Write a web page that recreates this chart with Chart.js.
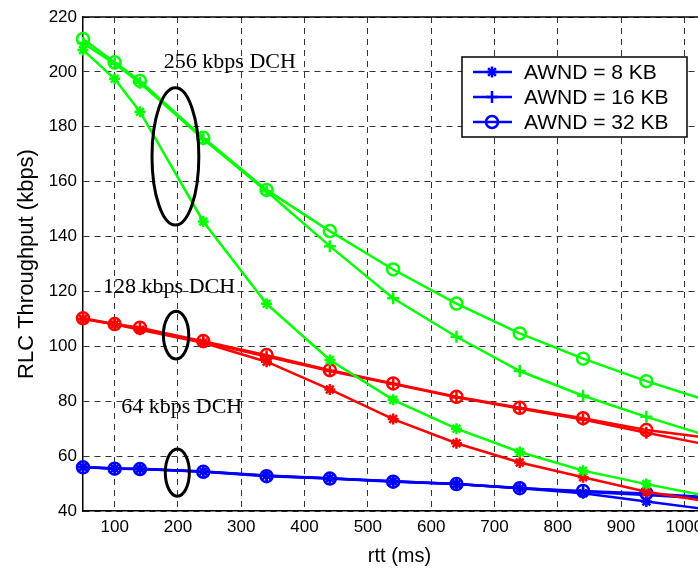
<!DOCTYPE html>
<html lang="en">
<head>
<meta charset="UTF-8">
<title>RLC Throughput vs rtt</title>
<script src="https://cdn.jsdelivr.net/npm/chart.js"></script>
<style>
    body { margin: 0; background: #fff; overflow: hidden; }
    #wrap { width: 698px; height: 569px; overflow: hidden; }
    canvas { display: block; }
</style>
</head>
<body>
<div id="wrap"><canvas id="rlcChart" width="740" height="569"></canvas></div>
<script>
    // x values (rtt, ms)
    const rtt = [50, 100, 140, 240, 340, 440, 540, 640, 740, 840, 940, 1040];
    const xTicks = [100, 200, 300, 400, 500, 600, 700, 800, 900, 1000];
    const yTicks = [40, 60, 80, 100, 120, 140, 160, 180, 200, 220];

    // 256 kbps DCH
    const dch256_8  = [208, 197.5, 185.5, 145.5, 115.5, 95, 80.5, 70, 61.5, 54.7, 49.8, 45.3];
    const dch256_16 = [210.5, 203, 196, 175.5, 156.5, 136.5, 117.5, 103.5, 91, 82, 74.3, 67.2];
    const dch256_32 = [212, 203.5, 196.7, 176, 157, 142, 128, 115.6, 104.7, 95.5, 87.3, 80];
    // 128 kbps DCH
    const dch128_8  = [110, 108, 106, 101.3, 94.4, 84.3, 73.5, 64.7, 57.7, 52.3, 47, 43.4];
    const dch128_16 = [110, 108, 106.5, 101.6, 96.3, 91, 86.3, 81.4, 77.3, 73.3, 68.5, 64];
    const dch128_32 = [110.2, 108.1, 106.8, 101.9, 96.8, 91.3, 86.5, 81.6, 77.6, 73.8, 69.5, 66.6];
    // 64 kbps DCH
    const dch64_8  = [56, 55.5, 55.4, 54.4, 52.9, 51.9, 50.8, 49.8, 48.3, 46.5, 43.5, 40.5];
    const dch64_16 = [56, 55.5, 55.3, 54.4, 52.8, 51.8, 50.8, 49.8, 48.4, 47, 45.8, 44.5];
    const dch64_32 = [55.9, 55.4, 55.3, 54.3, 52.7, 51.8, 50.7, 49.8, 48.3, 47.3, 46.4, 45];

    const awndLabels = ['AWND = 8 KB', 'AWND = 16 KB', 'AWND = 32 KB'];
    const awndStyles = ['star', 'cross', 'circle'];

    // annotation text + ellipses, in data units
    const dchNotes = [
        { text: '256 kbps DCH', x: 282, y: 203.5 },
        { text: '128 kbps DCH', x: 186, y: 121.6 },
        { text: '64 kbps DCH',  x: 206, y: 77.9 }
    ];
    const dchRings = [
        { x: 196, y: 169.2, rx: 37, ry: 25 },
        { x: 197, y: 104.1, rx: 20, ry: 8.7 },
        { x: 199, y: 54,    rx: 19, ry: 8.6 }
    ];

    const SANS = "'Liberation Sans', Arial, sans-serif";
    const SERIF = "'Liberation Serif', 'Times New Roman', serif";

    function series(values, color, style) {
        return {
            data: rtt.map((x, i) => ({ x: x, y: values[i] })),
            borderColor: color,
            backgroundColor: 'rgba(0,0,0,0)',
            borderWidth: 2.5,
            pointStyle: style,
            pointRadius: style === 'star' ? 5.5 : 6,
            pointBorderWidth: 2.5,
            pointBackgroundColor: 'rgba(0,0,0,0)',
            pointBorderColor: color,
            tension: 0,
            clip: false
        };
    }

    const datasets = [
        series(dch256_32, '#00ff00', 'circle'),
        series(dch256_16, '#00ff00', 'cross'),
        series(dch256_8,  '#00ff00', 'star'),
        series(dch128_32, '#ff0000', 'circle'),
        series(dch128_16, '#ff0000', 'cross'),
        series(dch128_8,  '#ff0000', 'star'),
        series(dch64_32,  '#0000ff', 'circle'),
        series(dch64_16,  '#0000ff', 'cross'),
        series(dch64_8,   '#0000ff', 'star')
    ];

    const extrasPlugin = {
        id: 'extras',
        afterDatasetsDraw(chart) {
            const { ctx, chartArea } = chart;
            const xs = chart.scales.x, ys = chart.scales.y;

            // solid top frame
            ctx.save();
            ctx.strokeStyle = '#000';
            ctx.lineWidth = 1.5;
            ctx.beginPath();
            ctx.moveTo(chartArea.left, chartArea.top);
            ctx.lineTo(chartArea.right, chartArea.top);
            ctx.stroke();

            // ellipses
            ctx.lineWidth = 3;
            dchRings.forEach(r => {
                const cx = xs.getPixelForValue(r.x), cy = ys.getPixelForValue(r.y);
                const rx = xs.getPixelForValue(r.x + r.rx) - cx;
                const ry = cy - ys.getPixelForValue(r.y + r.ry);
                ctx.beginPath();
                ctx.ellipse(cx, cy, rx, ry, 0, 0, Math.PI * 2);
                ctx.stroke();
            });

            // labels
            ctx.fillStyle = '#000';
            ctx.font = '22px ' + SERIF;
            ctx.textAlign = 'center';
            ctx.textBaseline = 'middle';
            dchNotes.forEach(n => {
                ctx.fillText(n.text, xs.getPixelForValue(n.x), ys.getPixelForValue(n.y));
            });

            // legend box
            const x0 = chartArea.right - 254, y0 = chartArea.top + 40, w = 225, h = 80;
            ctx.fillStyle = '#fff';
            ctx.fillRect(x0, y0, w, h);
            ctx.strokeStyle = '#000';
            ctx.lineWidth = 1.5;
            ctx.strokeRect(x0, y0, w, h);
            ctx.font = '21px ' + SANS;
            ctx.textAlign = 'left';
            awndLabels.forEach((label, i) => {
                const y = y0 + 15 + i * 25;
                ctx.strokeStyle = '#0000ff';
                ctx.lineWidth = 2.5;
                ctx.beginPath();
                ctx.moveTo(x0 + 11, y);
                ctx.lineTo(x0 + 50, y);
                ctx.stroke();
                ctx.fillStyle = 'rgba(0,0,0,0)';
                Chart.helpers.drawPoint(ctx, {
                    pointStyle: awndStyles[i],
                    radius: awndStyles[i] === 'star' ? 5.5 : 6,
                    borderWidth: 2.5,
                    rotation: 0
                }, x0 + 30, y);
                ctx.fillStyle = '#000';
                ctx.fillText(label, x0 + 62, y + 1);
            });
            ctx.restore();
        }
    };

    const ctx = document.getElementById('rlcChart').getContext('2d');
    new Chart(ctx, {
        type: 'line',
        data: { datasets: datasets },
        options: {
            responsive: false,
            animation: false,
            events: [],
            layout: { padding: { top: 17, right: 24, left: 0, bottom: 0 } },
            plugins: { legend: { display: false }, tooltip: { enabled: false } },
            scales: {
                x: {
                    type: 'linear',
                    min: 50,
                    max: 1050,
                    afterBuildTicks: scale => { scale.ticks = xTicks.map(v => ({ value: v })); },
                    afterFit: scale => { scale.height = 58; },
                    ticks: {
                        autoSkip: false,
                        maxRotation: 0,
                        padding: 6,
                        color: '#000',
                        font: { size: 17, family: SANS },
                        callback: v => String(v)
                    },
                    grid: { color: 'rgba(0,0,0,0.8)', lineWidth: 1, drawTicks: false },
                    border: { color: '#000', width: 1.5, dash: [6, 5] },
                    title: {
                        display: true,
                        text: 'rtt (ms)',
                        color: '#000',
                        font: { size: 20, family: SANS },
                        padding: { top: 0, bottom: 1 }
                    }
                },
                y: {
                    min: 40,
                    max: 220,
                    afterBuildTicks: scale => { scale.ticks = yTicks.map(v => ({ value: v })); },
                    afterFit: scale => { scale.width = 83; },
                    ticks: {
                        padding: 6,
                        color: '#000',
                        font: { size: 17, family: SANS }
                    },
                    grid: { color: 'rgba(0,0,0,0.8)', lineWidth: 1, drawTicks: false },
                    border: { color: '#000', width: 1.5, dash: [6, 5] },
                    title: {
                        display: true,
                        text: 'RLC Throughput (kbps)',
                        color: '#000',
                        font: { size: 22, family: SANS },
                        padding: { top: 14, bottom: 0 }
                    }
                }
            }
        },
        plugins: [extrasPlugin]
    });
</script>
</body>
</html>
